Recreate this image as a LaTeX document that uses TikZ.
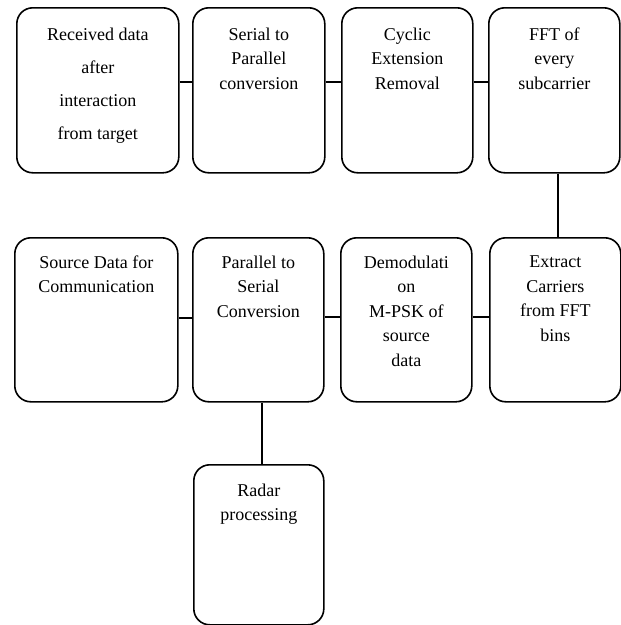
\documentclass[tikz,border=0pt]{standalone}
\usepackage{fontspec}
\setmainfont{Liberation Serif}

\begin{document}
\begin{tikzpicture}[x=1pt,y=1pt,line width=1.6pt,
  stage/.style={draw,rounded corners=16pt,anchor=north west,minimum height=165pt,inner sep=0pt},
  lbl/.style={anchor=north,align=center,inner sep=0pt,font=\fontsize{18}{24.5}\selectfont}]
  \useasboundingbox (0,0) rectangle (621,-625);
  % receiver chain, top row
  \node[stage,minimum width=162pt] (rx) at (16,-7) {};
  \node[stage,minimum width=132pt] (sp) at (192,-7) {};
  \node[stage,minimum width=131pt] (cp) at (341,-7) {};
  \node[stage,minimum width=131pt] (fft) at (488,-7) {};
  % bottom row
  \node[stage,minimum width=163pt,minimum height=164pt] (src) at (14,-237) {};
  \node[stage,minimum width=131pt,minimum height=164pt] (ps) at (192,-237) {};
  \node[stage,minimum width=131pt,minimum height=164pt] (dem) at (340,-237) {};
  \node[stage,minimum width=131pt,minimum height=164pt] (ext) at (489,-237) {};
  \node[stage,minimum width=130pt,minimum height=160pt] (rad) at (193,-464) {};
  % texts
  \node[lbl,font=\fontsize{18}{33}\selectfont] (rx-l) at ([yshift=-20pt]rx.north) {Received data\\after\\interaction\\from target};
  \node[lbl] (sp-l) at ([yshift=-20pt]sp.north) {Serial to\\Parallel\\conversion};
  \node[lbl] (cp-l) at ([yshift=-20pt]cp.north) {Cyclic\\Extension\\Removal};
  \node[lbl] (fft-l) at ([yshift=-20pt]fft.north) {FFT of\\every\\subcarrier};
  \node[lbl] (src-l) at ([yshift=-18pt]src.north) {Source Data for\\Communication};
  \node[lbl] (ps-l) at ([yshift=-18pt]ps.north) {Parallel to\\Serial\\Conversion};
  \node[lbl] (dem-l) at ([yshift=-18pt]dem.north) {Demodulati\\on\\M-PSK of\\source\\data};
  \node[lbl] (ext-l) at ([yshift=-18pt]ext.north) {Extract\\Carriers\\from FFT\\bins};
  \node[lbl] (rad-l) at ([yshift=-19pt]rad.north) {Radar\\processing};
  % links
  \draw ([yshift=8.5pt]rx.east) -- ([yshift=8.5pt]sp.west);
  \draw ([yshift=8.5pt]sp.east) -- ([yshift=8.5pt]cp.west);
  \draw ([yshift=8.5pt]cp.east) -- ([yshift=8.5pt]fft.west);
  \draw ([xshift=3.5pt]fft.south) -- ([xshift=3.5pt]fft.south |- ext.north);
  \draw ([yshift=3pt]ext.west) -- ([yshift=3pt]dem.east);
  \draw ([yshift=3pt]dem.west) -- ([yshift=3pt]ps.east);
  \draw ([yshift=2pt]ps.west) -- ([yshift=2pt]src.east);
  \draw ([xshift=3.5pt]ps.south) -- ([xshift=3.5pt]ps.south |- rad.north);
\end{tikzpicture}
\end{document}
